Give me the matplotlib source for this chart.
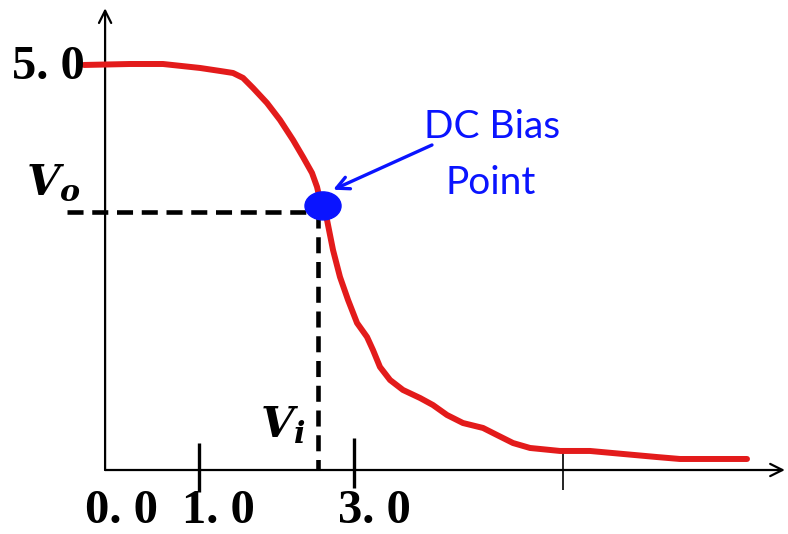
import matplotlib
matplotlib.use("Agg")
import matplotlib.pyplot as plt
from matplotlib.patches import Ellipse

# Transfer characteristic: input voltage vs output voltage
vin = [-0.484, 0.110, 0.535, 1.013, 1.271, 1.439, 1.568, 1.697, 1.877, 2.045,
       2.213, 2.342, 2.458, 2.523, 2.561, 2.600, 2.652, 2.729, 2.819, 2.923,
       3.039, 3.168, 3.245, 3.335, 3.465, 3.632, 3.852, 4.019, 4.200, 4.406,
       4.665, 4.845, 5.052, 5.271, 5.658, 6.045, 6.471, 6.910, 7.206, 8.071]
vout = [5.000, 5.012, 5.012, 4.963, 4.926, 4.901, 4.840, 4.716, 4.531, 4.321,
        4.074, 3.864, 3.667, 3.494, 3.333, 3.235, 3.086, 2.716, 2.383, 2.099,
        1.815, 1.642, 1.481, 1.272, 1.111, 0.988, 0.889, 0.802, 0.679, 0.580,
        0.519, 0.432, 0.333, 0.272, 0.235, 0.235, 0.198, 0.160, 0.136, 0.136]

# Operating point
bias_vi = 2.535
bias_vo = 3.185
dot_x, dot_y = 2.60, 3.26

# Axis ticks and labels
tick_pos = [1.0, 3.0, 5.7]
x_labels = ["0. 0", "1. 0", "3. 0"]
x_label_pos = [0.006, 1.245, 3.258]
y_label = "5. 0"

RED = "#e31b1b"
BLUE = "#0a14ff"

plt.rcParams["mathtext.fontset"] = "custom"
plt.rcParams["mathtext.it"] = "DejaVu Serif:italic:bold"
plt.rcParams["mathtext.rm"] = "DejaVu Serif:bold"

fig = plt.figure(figsize=(7.88, 5.34), dpi=100)
fig.patch.set_facecolor("white")
ax = fig.add_axes([0, 0, 1, 1])
ax.set_xlim(-1.568, 8.600)
ax.set_ylim(-0.790, 5.802)
ax.axis("off")

# Axes with arrowheads
y_axis_x = -0.212
ax.annotate("", xy=(y_axis_x, 5.70), xytext=(y_axis_x, 0.0),
            arrowprops=dict(arrowstyle="->", lw=1.6, color="black",
                            mutation_scale=22, shrinkA=0, shrinkB=0))
ax.annotate("", xy=(8.56, 0.0), xytext=(y_axis_x, 0.0),
            arrowprops=dict(arrowstyle="->", lw=1.6, color="black",
                            mutation_scale=22, shrinkA=0, shrinkB=0))

# Tick marks
ax.plot([tick_pos[0]] * 2, [0.333, -0.272], color="black", lw=2.4, solid_capstyle="butt")
ax.plot([tick_pos[1]] * 2, [0.395, -0.222], color="black", lw=2.4, solid_capstyle="butt")
ax.plot([tick_pos[2]] * 2, [0.21, -0.247], color="black", lw=1.2, solid_capstyle="butt")

# Curve
ax.plot(vin, vout, color=RED, lw=4.3, solid_capstyle="round",
        solid_joinstyle="round", zorder=3)

# Dashed guides to the bias point
ax.plot([-0.703, bias_vi], [bias_vo, bias_vo], color="black", lw=3.3,
        dashes=(3.5, 1.9), dash_capstyle="butt", zorder=4)
ax.plot([bias_vi, bias_vi], [bias_vo, 0.0], color="black", lw=3.3,
        dashes=(3.5, 1.9), dash_capstyle="butt", zorder=4)

# Bias point marker
ax.add_patch(Ellipse((dot_x, dot_y), 0.465, 0.346, color=BLUE, zorder=5))

# Annotation
ax.annotate("", xy=(2.73, 3.46), xytext=(4.006, 4.012),
            arrowprops=dict(arrowstyle="->,head_length=0.9,head_width=0.45",
                            lw=2.4, color=BLUE, shrinkA=0, shrinkB=0))
ax.text(4.78, (470 - 138) / 81, "DC Bias", color=BLUE, fontsize=28,
        family="Lato", ha="center", va="baseline")
ax.text(4.77, (470 - 194) / 81, "Point", color=BLUE, fontsize=28,
        family="Lato", ha="center", va="baseline")

# Labels
for lab, pos in zip(x_labels, x_label_pos):
    ax.text(pos, -0.80 + 0.02, lab, fontsize=35, family="Liberation Serif",
            weight="bold", ha="center", va="bottom")
ax.text(-0.942, 4.98, y_label, fontsize=35, family="Liberation Serif",
        weight="bold", ha="center", va="center")
ax.text(-0.53, (470 - 194) / 81, r"$V_o$", fontsize=31, ha="right", va="baseline")
ax.text(2.37, (470 - 437) / 81, r"$V_i$", fontsize=31, ha="right", va="baseline")

fig.savefig("out.png", dpi=100, facecolor="white")
